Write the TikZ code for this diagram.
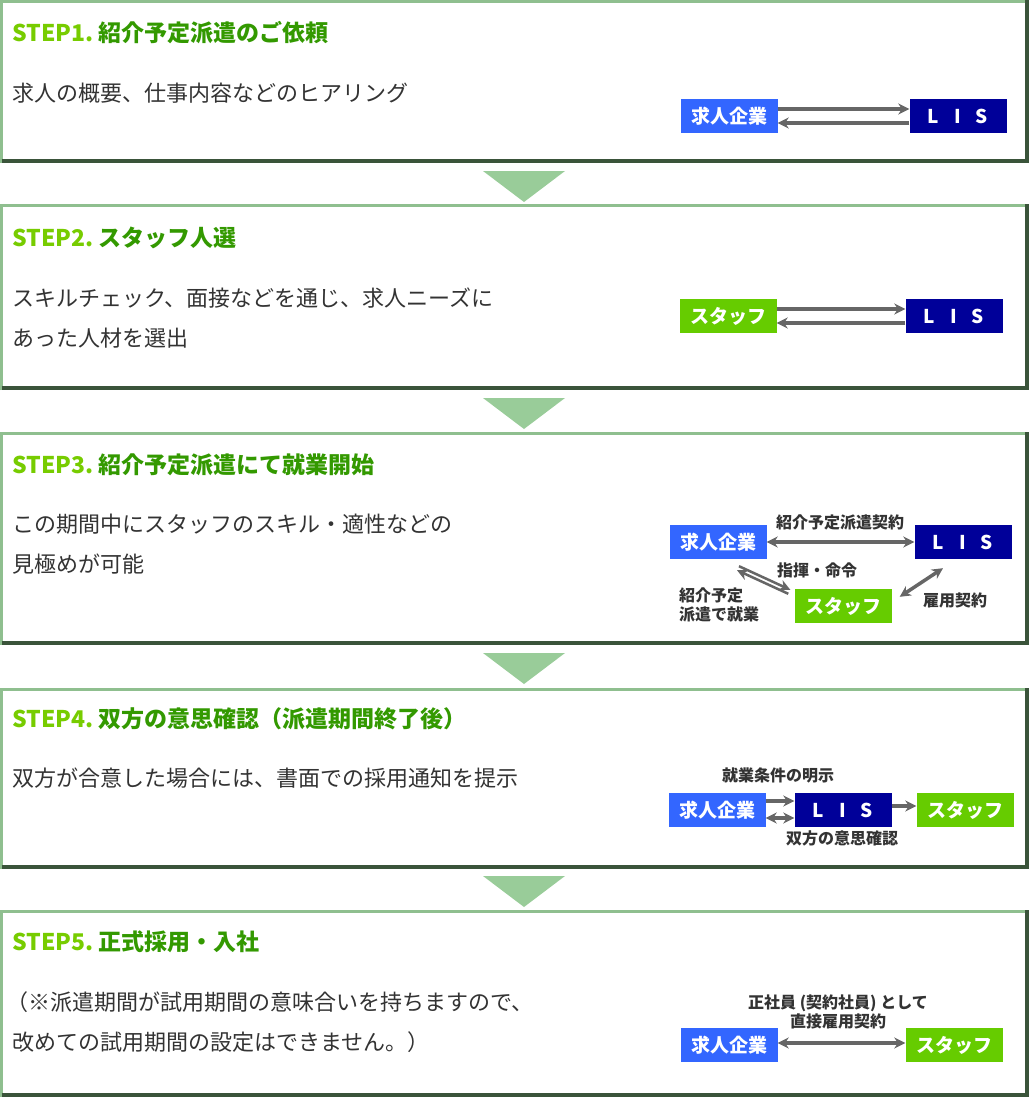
\documentclass[tikz,border=0pt]{standalone}
\usepackage{fontspec}
\setmainfont{Noto Sans CJK JP}
\usetikzlibrary{arrows.meta}

\definecolor{framelight}{HTML}{8FBF8F}
\definecolor{framedark}{HTML}{3A543A}
\definecolor{trigreen}{HTML}{99CC99}
\definecolor{steplabel}{HTML}{77CC00}
\definecolor{steptitle}{HTML}{339900}
\definecolor{clientblue}{HTML}{3366FF}
\definecolor{lisnavy}{HTML}{000099}
\definecolor{staffgreen}{HTML}{66CC00}
\definecolor{arrowgray}{HTML}{666666}
\definecolor{textgray}{HTML}{333333}

\tikzset{
  box/.style={minimum width=97pt, minimum height=34pt, inner sep=0pt, text=white,
    font=\fontsize{19}{19}\selectfont\bfseries},
  client/.style={box, fill=clientblue},
  lis/.style={box, fill=lisnavy},
  staff/.style={box, fill=staffgreen},
  link/.style={draw=arrowgray, line width=3.5pt, -{Stealth[length=11pt,width=11pt]}},
  twolink/.style={link, {Stealth[length=11pt,width=11pt]}-{Stealth[length=11pt,width=11pt]}},
  steptitle/.style={anchor=west, inner sep=0pt, text=steptitle, font=\fontsize{23}{23}\selectfont\bfseries},
  body/.style={anchor=west, inner sep=0pt, align=left, text=textgray,
    font=\fontsize{22}{40}\selectfont},
  small/.style={inner sep=0pt, text=textgray, align=center,
    font=\fontsize{16}{19}\selectfont\bfseries},
}

\newcommand{\lisname}{L\hspace{15pt}I\hspace{15pt}S}

\begin{document}
\begin{tikzpicture}[x=1pt, y=-1pt]
  \useasboundingbox (0,0) rectangle (1030,1098);

  % frames
  \foreach \t/\b in {0/163, 204/390, 432/645, 688/869, 910/1097} {
    \fill[white] (0,\t) rectangle (1029,\b);
    \draw[framelight, line width=3pt] (1.5,\b) -- (1.5,\t+1.5) -- (1029,\t+1.5);
    \draw[framedark, line width=4pt] (1.5,\b-2) -- (1027,\b-2) -- (1027,\t);
  }
  % arrows between steps
  \foreach \y in {171, 398, 653, 876}
    \fill[trigreen] (483,\y) -- (565,\y) -- (524,\y+31) -- cycle;

  % STEP1
  \node[steptitle] (t1) at (12,33) {\textcolor{steplabel}{STEP1.}\ 紹介予定派遣のご依頼};
  \node[body] (b1) at (12,93) {求人の概要、仕事内容などのヒアリング};
  \node[client] (c1) at (729,116) {求人企業};
  \node[lis] (l1) at (958,116) {\lisname};
  \draw[link] ([yshift=7pt]c1.east) -- ([yshift=7pt]l1.west);
  \draw[link] ([yshift=-7pt]l1.west) -- ([yshift=-7pt]c1.east);

  % STEP2
  \node[steptitle] (t2) at (12,238) {\textcolor{steplabel}{STEP2.}\ スタッフ人選};
  \node[body] (b2) at (12,318) {スキルチェック、面接などを通じ、求人ニーズに\\あった人材を選出};
  \node[staff] (s2) at (728,316) {スタッフ};
  \node[lis] (l2) at (954,316) {\lisname};
  \draw[link] ([yshift=7pt]s2.east) -- ([yshift=7pt]l2.west);
  \draw[link] ([yshift=-7pt]l2.west) -- ([yshift=-7pt]s2.east);

  % STEP3
  \node[steptitle] (t3) at (12,465) {\textcolor{steplabel}{STEP3.}\ 紹介予定派遣にて就業開始};
  \node[body] (b3) at (12,544) {この期間中にスタッフのスキル・適性などの\\見極めが可能};
  \node[client] (c3) at (718,542) {求人企業};
  \node[lis] (l3) at (963,542) {\lisname};
  \node[staff] (s3) at (843,606) {スタッフ};
  \draw[twolink] (c3) -- (l3);
  \node[small] (k3) at (840,522) {紹介予定派遣契約};
  \draw[link, line width=2.5pt] ([shift={(21pt,-7pt)}]c3.south) -- ([shift={(-4pt,-1pt)}]s3.north west);
  \draw[link, line width=2.5pt] ([shift={(-6pt,-5pt)}]s3.north west) -- ([shift={(19pt,-11pt)}]c3.south);
  \node[small] (m3) at (817,570) {指揮・命令};
  \node[small, anchor=west, align=left] (w3) at (679,605) {紹介予定\\派遣で就業};
  \draw[twolink] ([shift={(-20pt,-9pt)}]l3.south) -- ([shift={(8pt,-8pt)}]s3.north east);
  \node[small] (e3) at (955,600) {雇用契約};

  % STEP4
  \node[steptitle] (t4) at (12,719) {\textcolor{steplabel}{STEP4.}\ 双方の意思確認（派遣期間終了後）};
  \node[body] (b4) at (12,778) {双方が合意した場合には、書面での採用通知を提示};
  \node[client] (c4) at (717,810) {求人企業};
  \node[lis] (l4) at (843,810) {\lisname};
  \node[staff] (s4) at (965,810) {スタッフ};
  \draw[link] ([yshift=9pt]c4.east) -- ([yshift=9pt]l4.west);
  \draw[twolink] ([yshift=-8pt]c4.east) -- ([yshift=-8pt]l4.west);
  \draw[link] ([yshift=4pt]l4.east) -- ([yshift=4pt]s4.west);
  \node[small] (j4) at (778,775) {就業条件の明示};
  \node[small] (k4) at (842,838) {双方の意思確認};

  % STEP5
  \node[steptitle] (t5) at (12,942) {\textcolor{steplabel}{STEP5.}\ 正式採用・入社};
  \node[body] (b5) at (6,1022) {（※派遣期間が試用期間の意味合いを持ちますので、\\\hspace{6pt}改めての試用期間の設定はできません。）};
  \node[client] (c5) at (729,1045) {求人企業};
  \node[staff] (s5) at (954,1045) {スタッフ};
  \draw[twolink] ([yshift=2pt]c5.east) -- ([yshift=2pt]s5.west);
  \node[small] (k5) at (838,1012) {正社員 (契約社員) として\\直接雇用契約};
\end{tikzpicture}
\end{document}
